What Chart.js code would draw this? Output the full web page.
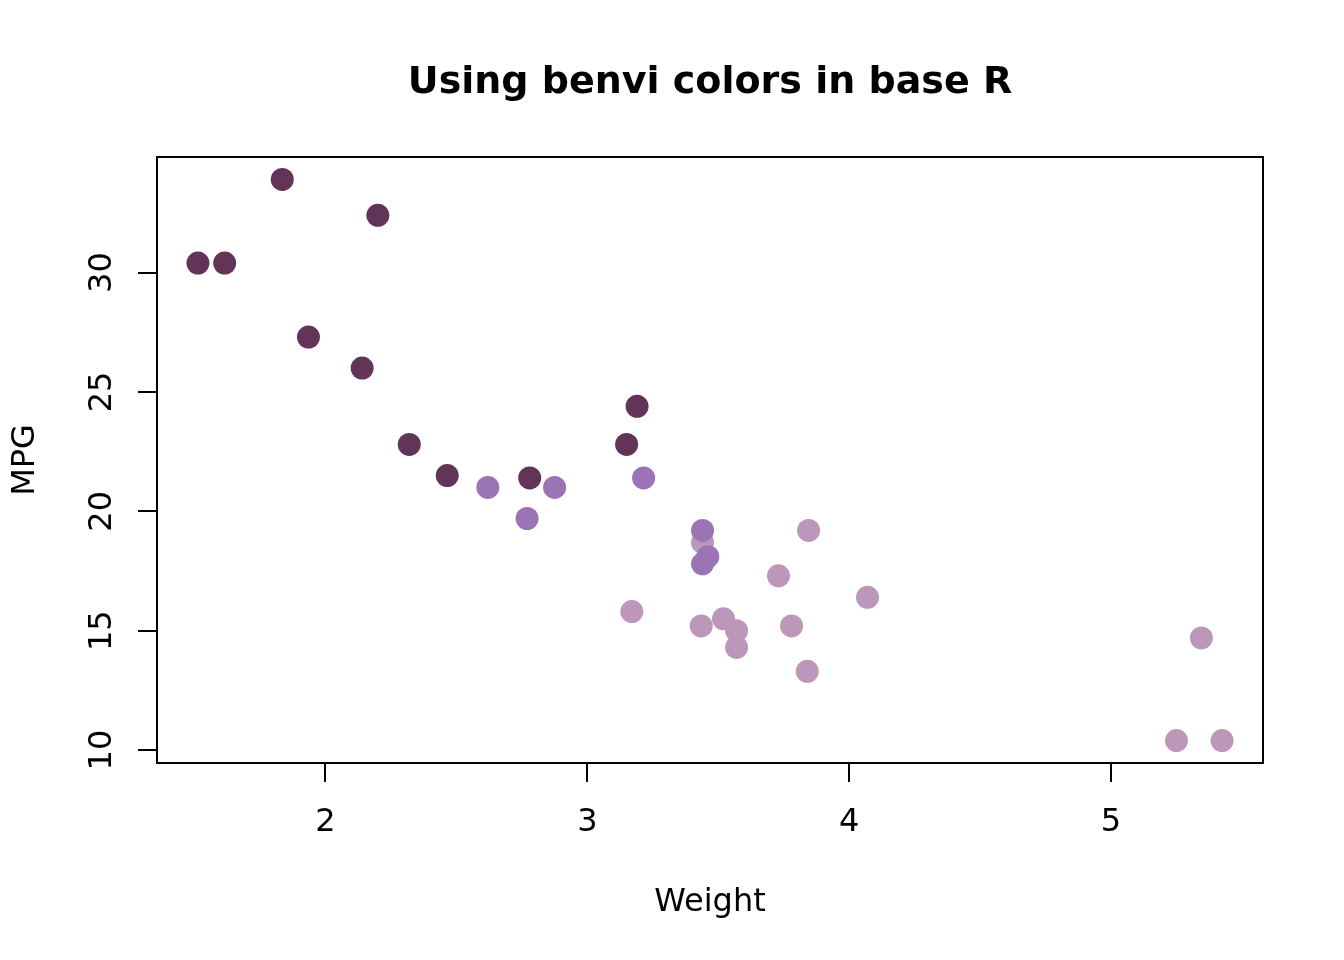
<!DOCTYPE html>
<html>
<head>
<meta charset="utf-8">
<script src="https://cdn.jsdelivr.net/npm/chart.js@4"></script>
<style>
  html, body { margin: 0; padding: 0; background: #ffffff; }
  #wrap { width: 1344px; height: 960px; }
</style>
</head>
<body>
<div id="wrap"><canvas id="c" width="1344" height="960"></canvas></div>
<script>
// mtcars: weight (1000 lbs), mpg, cylinders — in data order
const weight = [2.620, 2.875, 2.320, 3.215, 3.440, 3.460, 3.570, 3.190, 3.150, 3.440, 3.440, 4.070, 3.730, 3.780, 5.250, 5.424, 5.345, 2.200, 1.615, 1.835, 2.465, 3.520, 3.435, 3.840, 3.845, 1.935, 2.140, 1.513, 3.170, 2.770, 3.570, 2.780];
const mpg = [21.0, 21.0, 22.8, 21.4, 18.7, 18.1, 14.3, 24.4, 22.8, 19.2, 17.8, 16.4, 17.3, 15.2, 10.4, 10.4, 14.7, 32.4, 30.4, 33.9, 21.5, 15.5, 15.2, 13.3, 19.2, 27.3, 26.0, 30.4, 15.8, 19.7, 15.0, 21.4];
const cyl = [6, 6, 4, 6, 8, 6, 8, 4, 4, 6, 6, 8, 8, 8, 8, 8, 8, 4, 4, 4, 4, 8, 8, 8, 8, 4, 4, 4, 8, 6, 8, 4];
const xTicks = [2, 3, 4, 5];
const yTicks = [10, 15, 20, 25, 30];

const cylColors = { 4: '#623558', 6: '#9b74b6', 8: '#bd97ba' };
const points = weight.map((w, i) => ({ x: w, y: mpg[i] }));
const pointColors = cyl.map(c => cylColors[c]);

const FONT = "'DejaVu Sans', 'Liberation Sans', sans-serif";

const boxPlugin = {
  id: 'box',
  afterDraw(chart) {
    const { ctx, chartArea: a } = chart;
    ctx.save();
    ctx.strokeStyle = '#000';
    ctx.lineWidth = 2;
    ctx.strokeRect(a.left, a.top, a.right - a.left, a.bottom - a.top);
    ctx.restore();
  }
};

new Chart(document.getElementById('c'), {
  type: 'scatter',
  data: {
    datasets: [{
      data: points,
      pointBackgroundColor: pointColors,
      pointBorderWidth: 0,
      pointBorderColor: 'rgba(0,0,0,0)',
      pointRadius: 11.5,
      pointHoverRadius: 11.5
    }]
  },
  options: {
    responsive: false,
    animation: false,
    devicePixelRatio: 1,
    layout: { padding: { left: 0, right: 81, top: 0, bottom: 0 } },
    plugins: {
      legend: { display: false },
      tooltip: { enabled: false },
      title: {
        display: true,
        fullSize: false,
        text: 'Using benvi colors in base R',
        color: '#000',
        font: { family: FONT, size: 38, weight: 'bold', lineHeight: 1.2 },
        padding: { top: 60, bottom: 51.4 }
      }
    },
    scales: {
      x: {
        type: 'linear',
        min: 1.3566,
        max: 5.5804,
        afterFit: s => { s.height = 197; },
        afterBuildTicks: s => { s.ticks = xTicks.map(v => ({ value: v })); },
        border: { display: false },
        grid: { drawOnChartArea: false, drawTicks: true, tickLength: 19, color: '#000', lineWidth: 2 },
        ticks: { color: '#000', font: { family: FONT, size: 32 }, padding: 21, maxRotation: 0, autoSkip: false },
        title: { display: true, text: 'Weight', color: '#000', font: { family: FONT, size: 32 }, padding: { top: 0, bottom: 38 } }
      },
      y: {
        type: 'linear',
        min: 9.46,
        max: 34.84,
        afterFit: s => { s.width = 157; },
        afterBuildTicks: s => { s.ticks = yTicks.map(v => ({ value: v })); },
        border: { display: false },
        grid: { drawOnChartArea: false, drawTicks: true, tickLength: 19, color: '#000', lineWidth: 2 },
        ticks: { color: '#000', font: { family: FONT, size: 32 }, padding: 15, minRotation: 90, maxRotation: 90, crossAlign: 'center', autoSkip: false },
        title: { display: true, text: 'MPG', color: '#000', font: { family: FONT, size: 32 }, padding: { top: 6, bottom: 0 } }
      }
    }
  },
  plugins: [boxPlugin]
});
</script>
</body>
</html>
